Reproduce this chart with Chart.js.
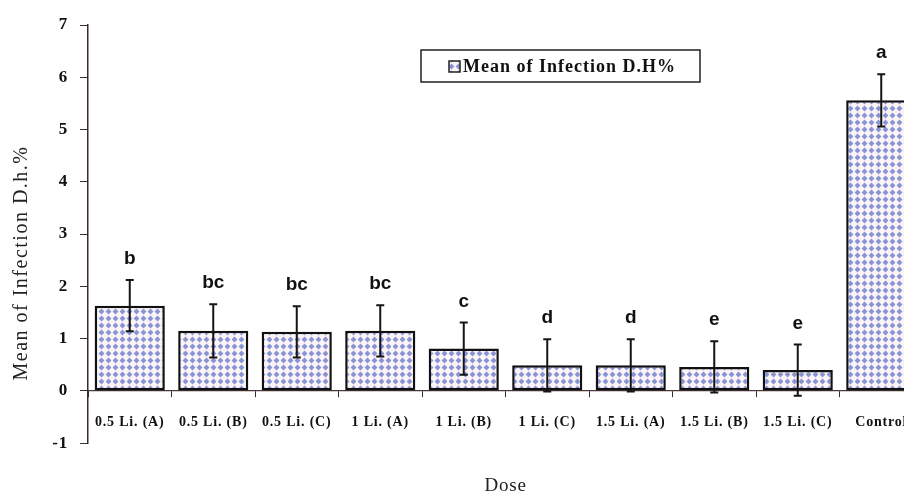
<!DOCTYPE html>
<html>
<head>
<meta charset="utf-8">
<script src="https://cdn.jsdelivr.net/npm/chart.js@4/dist/chart.umd.min.js"></script>
<style>
    html, body { margin: 0; padding: 0; background: #fff; overflow: hidden; }
    #wrap { width: 930px; height: 497px; }
</style>
</head>
<body>
<div id="wrap"><canvas id="doseChart" width="930" height="497"></canvas></div>
<script>
const doses = ['0.5 Li. (A)', '0.5 Li. (B)', '0.5 Li. (C)', '1 Li. (A)', '1 Li. (B)',
    '1 Li. (C)', '1.5 Li. (A)', '1.5 Li. (B)', '1.5 Li. (C)', 'Control'];
const meanInfection = [1.63, 1.15, 1.13, 1.15, 0.81, 0.49, 0.49, 0.46, 0.40, 5.56];
const errorSize = [0.49, 0.51, 0.49, 0.49, 0.50, 0.50, 0.50, 0.49, 0.49, 0.50];
const groupLetters = ['b', 'bc', 'bc', 'bc', 'c', 'd', 'd', 'e', 'e', 'a'];
const yTicks = [-1, 0, 1, 2, 3, 4, 5, 6, 7];
const yTitle = 'Mean of Infection D.h.%';

const serif = "'Liberation Serif', 'Times New Roman', serif";
const sans = "'Liberation Sans', Arial, sans-serif";

// dotted fill used for the bars and the legend swatch
function makeDotPattern() {
    const tile = document.createElement('canvas');
    tile.width = 7;
    tile.height = 7;
    const t = tile.getContext('2d');
    t.fillStyle = '#fbf3f6';
    t.fillRect(0, 0, 7, 7);
    t.fillStyle = '#8895d5';
    t.beginPath();
    t.moveTo(3.5, 0.6);
    t.lineTo(6.4, 3.5);
    t.lineTo(3.5, 6.4);
    t.lineTo(0.6, 3.5);
    t.closePath();
    t.fill();
    return document.createElement('canvas').getContext('2d').createPattern(tile, 'repeat');
}

const dots = makeDotPattern();

// the source figure has loosely spaced serif text
const spacing = {
    id: 'spacing',
    beforeDraw(chart) { chart.ctx.letterSpacing = '0.8px'; },
    beforeDatasetsDraw(chart) { chart.ctx.letterSpacing = '0px'; }
};

const errorBars = {
    id: 'errorBars',
    afterDatasetsDraw(chart) {
        const ctx = chart.ctx;
        const y = chart.scales.y;
        const meta = chart.getDatasetMeta(0);
        ctx.save();
        ctx.strokeStyle = '#151515';
        ctx.lineWidth = 2;
        meta.data.forEach((bar, i) => {
            const top = y.getPixelForValue(meanInfection[i] + errorSize[i]);
            const bottom = y.getPixelForValue(meanInfection[i] - errorSize[i]);
            ctx.beginPath();
            ctx.moveTo(bar.x, top);
            ctx.lineTo(bar.x, bottom);
            ctx.moveTo(bar.x - 4, top);
            ctx.lineTo(bar.x + 4, top);
            ctx.moveTo(bar.x - 4, bottom);
            ctx.lineTo(bar.x + 4, bottom);
            ctx.stroke();

            ctx.fillStyle = '#111';
            ctx.font = 'bold 19px ' + sans;
            ctx.textAlign = 'center';
            ctx.textBaseline = 'middle';
            ctx.fillText(groupLetters[i], bar.x, top - 21);
        });
        ctx.restore();
    }
};

const boxLegend = {
    id: 'boxLegend',
    afterDraw(chart) {
        const ctx = chart.ctx;
        const label = chart.data.datasets[0].label;
        ctx.save();
        ctx.fillStyle = '#fff';
        ctx.fillRect(421, 50, 279, 32);
        ctx.strokeStyle = '#222';
        ctx.lineWidth = 1.5;
        ctx.strokeRect(421, 50, 279, 32);
        ctx.fillStyle = dots;
        ctx.fillRect(449, 61, 11, 11);
        ctx.strokeRect(449, 61, 11, 11);
        ctx.fillStyle = '#111';
        ctx.font = 'bold 18px ' + serif;
        ctx.letterSpacing = '1px';
        ctx.textBaseline = 'middle';
        ctx.fillText(label, 463, 67);

        // y axis title, placed like the source (a little below the axis middle)
        ctx.font = '20px ' + serif;
        ctx.letterSpacing = '1.5px';
        ctx.fillStyle = '#222';
        ctx.translate(22, 263);
        ctx.rotate(-Math.PI / 2);
        ctx.textAlign = 'center';
        ctx.fillText(yTitle, 0, 0);
        ctx.restore();
    }
};

new Chart(document.getElementById('doseChart').getContext('2d'), {
    type: 'bar',
    data: {
        labels: doses,
        datasets: [{
            label: 'Mean of Infection D.H%',
            data: meanInfection,
            backgroundColor: dots,
            borderColor: '#111',
            borderWidth: 2.5,
            borderSkipped: false,
            categoryPercentage: 1,
            barPercentage: 0.84
        }]
    },
    options: {
        responsive: false,
        animation: false,
        layout: {
            padding: { left: 8, top: 25, right: 7, bottom: 0 }
        },
        plugins: {
            legend: { display: false },
            tooltip: { enabled: false },
            title: {
                display: true,
                text: 'Dose',
                position: 'bottom',
                fullSize: false,
                color: '#222',
                font: { family: serif, size: 19, weight: 'normal' },
                padding: { top: 31, bottom: 0 }
            }
        },
        scales: {
            x: {
                position: { y: 0 },
                grid: {
                    offset: true,
                    drawOnChartArea: false,
                    tickLength: 6,
                    color: '#333'
                },
                border: { color: '#4a3a3a', width: 1.2 },
                ticks: {
                    autoSkip: false,
                    maxRotation: 0,
                    padding: 17,
                    color: '#111',
                    font: { family: serif, size: 14, weight: 'bold' }
                }
            },
            y: {
                min: -1,
                max: 7,
                afterFit: scale => { scale.width = 80; },
                afterBuildTicks: scale => { scale.ticks = yTicks.map(v => ({ value: v })); },
                grid: {
                    drawOnChartArea: false,
                    tickLength: 8,
                    color: '#333'
                },
                border: { color: '#3a2a2a', width: 1.5 },
                ticks: {
                    padding: 12,
                    color: '#111',
                    font: { family: serif, size: 17, weight: 'bold' }
                }
            }
        }
    },
    plugins: [spacing, errorBars, boxLegend]
});
</script>
</body>
</html>
